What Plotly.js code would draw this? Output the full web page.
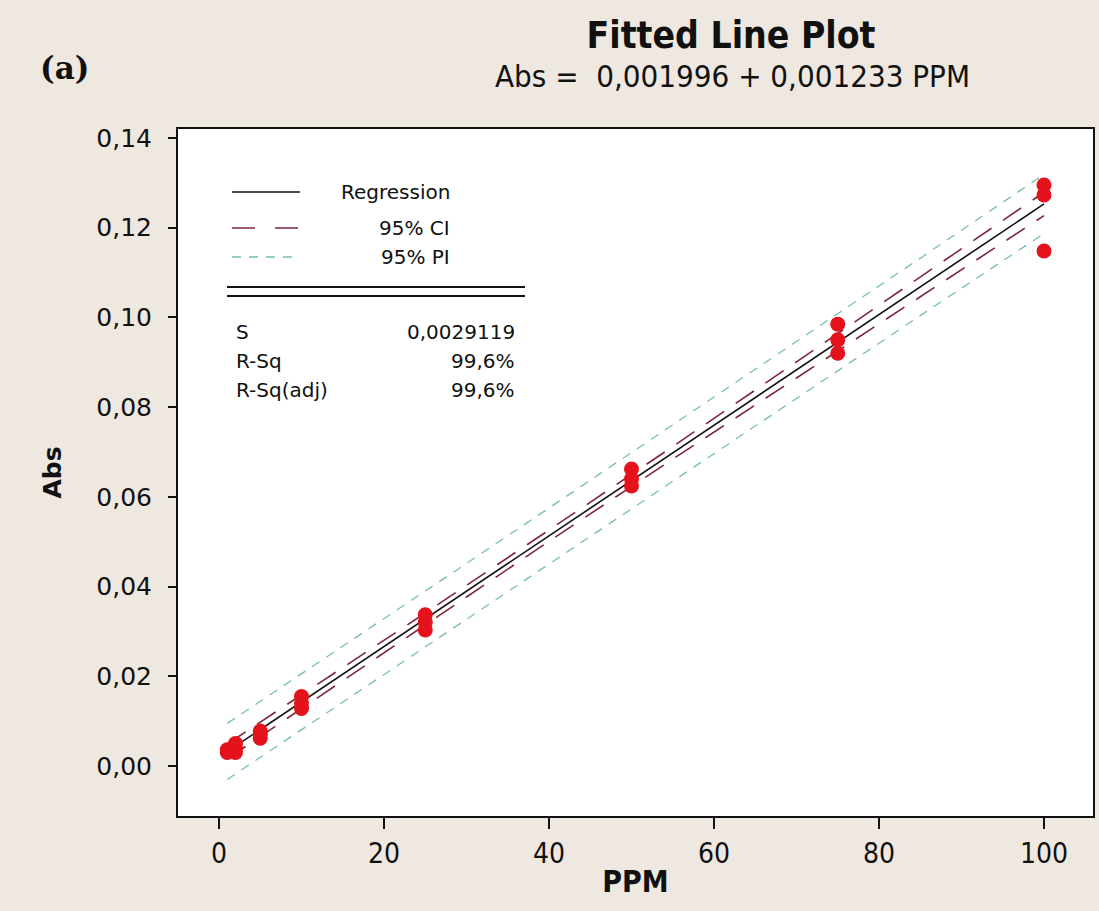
<!DOCTYPE html>
<html>
<head>
<meta charset="utf-8">
<script src="https://cdn.plot.ly/plotly-3.0.1.min.js"></script>
<style>html,body{margin:0;padding:0;background:#efe8e0;}</style>
</head>
<body>
<div id="chart" style="width:1099px;height:911px;"></div>
<script>
// ---- data ----
var ppm = [1, 1, 2, 2, 2, 5, 5, 5, 10, 10, 10, 25, 25, 25, 50, 50, 50, 75, 75, 75, 100, 100, 100];
var abs = [0.0030, 0.0036, 0.0030, 0.0040, 0.0050, 0.0062, 0.0070, 0.0078, 0.0128, 0.0140, 0.0155, 0.0303, 0.0320, 0.0337, 0.0624, 0.0640, 0.0662, 0.0920, 0.0950, 0.0985, 0.1148, 0.1273, 0.1295];

var lineX   = [1, 10, 25, 40, 55, 70, 85, 100];
var fitY    = [0.0032, 0.0143, 0.0328, 0.0513, 0.0698, 0.0883, 0.1068, 0.1253];
var ciUpper = [0.0049, 0.0158, 0.0341, 0.0526, 0.0712, 0.0901, 0.1090, 0.1279];
var ciLower = [0.0016, 0.0128, 0.0315, 0.0501, 0.0684, 0.0865, 0.1046, 0.1227];
var piUpper = [0.0095, 0.0205, 0.0390, 0.0575, 0.0760, 0.0946, 0.1132, 0.1319];
var piLower = [-0.0030, 0.0081, 0.0266, 0.0451, 0.0636, 0.0820, 0.1004, 0.1187];

var xTicks = [0, 20, 40, 60, 80, 100];
var xTickText = ['0', '20', '40', '60', '80', '100'];
var yTicks = [0, 0.02, 0.04, 0.06, 0.08, 0.10, 0.12, 0.14];
var yTickText = ['0,00', '0,02', '0,04', '0,06', '0,08', '0,10', '0,12', '0,14'];

var legendNames = ['Regression', '95% CI', '95% PI'];
var statNames = ['S', 'R-Sq', 'R-Sq(adj)'];
var statValues = ['0,0029119', '99,6%', '99,6%'];

var titleText = 'Fitted Line Plot';
var subtitleText = 'Abs =  0,001996 + 0,001233 PPM';
var panelLabel = '(a)';

// ---- styling ----
var CI_COLOR = '#7e2638';
var PI_COLOR = '#79bfa3';
var CI_DASH = '22px,14px';
var PI_DASH = '9px,8px';

var W = 1099, H = 911;
var L = 178, R = 1093, T = 129, B = 816;
function px(x) { return (x - L) / (R - L); }
function py(y) { return (B - y) / (B - T); }

var traces = [
  {x: lineX, y: piUpper, mode: 'lines', line: {color: PI_COLOR, width: 1.3, dash: PI_DASH}, showlegend: false, hoverinfo: 'skip'},
  {x: lineX, y: piLower, mode: 'lines', line: {color: PI_COLOR, width: 1.3, dash: PI_DASH}, showlegend: false, hoverinfo: 'skip'},
  {x: lineX, y: ciUpper, mode: 'lines', line: {color: CI_COLOR, width: 1.6, dash: CI_DASH}, showlegend: false, hoverinfo: 'skip'},
  {x: lineX, y: ciLower, mode: 'lines', line: {color: CI_COLOR, width: 1.6, dash: CI_DASH}, showlegend: false, hoverinfo: 'skip'},
  {x: lineX, y: fitY, mode: 'lines', line: {color: '#111111', width: 1.6}, showlegend: false, hoverinfo: 'skip'},
  {x: ppm, y: abs, mode: 'markers', marker: {color: '#e3121b', size: 15, line: {width: 0}}, showlegend: false}
];

var legFont = {family: 'DejaVu Sans', size: 20, color: '#111'};
var rowsY = [192, 228, 257];
var statY = [332, 361, 390];

var shapes = [
  {type: 'line', xref: 'paper', yref: 'paper', x0: px(232), x1: px(300), y0: py(rowsY[0]), y1: py(rowsY[0]), line: {color: '#111', width: 1.6}},
  {type: 'line', xref: 'paper', yref: 'paper', x0: px(232), x1: px(300), y0: py(rowsY[1]), y1: py(rowsY[1]), line: {color: CI_COLOR, width: 1.6, dash: '23px,20px'}},
  {type: 'line', xref: 'paper', yref: 'paper', x0: px(232), x1: px(300), y0: py(rowsY[2]), y1: py(rowsY[2]), line: {color: PI_COLOR, width: 1.4, dash: PI_DASH}},
  {type: 'line', xref: 'paper', yref: 'paper', x0: px(227), x1: px(525), y0: py(287), y1: py(287), line: {color: '#111', width: 2}},
  {type: 'line', xref: 'paper', yref: 'paper', x0: px(227), x1: px(525), y0: py(296), y1: py(296), line: {color: '#111', width: 2}}
];

var annotations = [];
for (var i = 0; i < legendNames.length; i++) {
  annotations.push({xref: 'paper', yref: 'paper', x: px(452), y: py(rowsY[i]), xanchor: 'right', yanchor: 'middle',
    text: legendNames[i], showarrow: false, font: legFont});
}
for (var j = 0; j < statNames.length; j++) {
  annotations.push({xref: 'paper', yref: 'paper', x: px(234), y: py(statY[j]), xanchor: 'left', yanchor: 'middle',
    text: statNames[j], showarrow: false, font: legFont});
  annotations.push({xref: 'paper', yref: 'paper', x: px(517), y: py(statY[j]), xanchor: 'right', yanchor: 'middle',
    text: statValues[j], showarrow: false, font: legFont});
}
annotations.push({xref: 'paper', yref: 'paper', x: (732 - L) / (R - L), y: py(76), xanchor: 'center', yanchor: 'middle',
  text: subtitleText, showarrow: false, font: {family: 'DejaVu Sans Condensed', size: 31, color: '#111'}});
annotations.push({xref: 'paper', yref: 'paper', x: px(38), y: py(68), xanchor: 'left', yanchor: 'middle',
  text: '<b>' + panelLabel + '</b>', showarrow: false, font: {family: 'DejaVu Serif', size: 31, color: '#111'}});

var layout = {
  width: W, height: H,
  paper_bgcolor: '#efe8e0',
  plot_bgcolor: '#ffffff',
  margin: {l: L, r: W - R, t: T, b: H - B, pad: 0},
  title: {text: '<b>' + titleText + '</b>', x: 731 / W, xanchor: 'center', xref: 'container',
    y: 1 - 35 / H, yanchor: 'middle', yref: 'container',
    font: {family: 'DejaVu Sans Condensed', size: 37, color: '#111'}},
  xaxis: {
    range: [-4.97, 105.94], tickvals: xTicks, ticktext: xTickText,
    ticks: 'outside', ticklen: 11, tickwidth: 2, tickcolor: '#111',
    showline: true, linecolor: '#111', linewidth: 2, mirror: true,
    showgrid: false, zeroline: false,
    tickfont: {family: 'DejaVu Sans Condensed', size: 28, color: '#111'},
    title: {text: '<b>PPM</b>', font: {family: 'DejaVu Sans Condensed', size: 30, color: '#111'}, standoff: 2}
  },
  yaxis: {
    range: [-0.01115, 0.1420], tickvals: yTicks, ticktext: yTickText,
    ticks: 'outside', ticklen: 8, tickwidth: 2, tickcolor: '#111',
    showline: true, linecolor: '#111', linewidth: 2, mirror: true,
    showgrid: false, zeroline: false,
    tickfont: {family: 'DejaVu Sans', size: 25, color: '#111'},
    ticklabelstandoff: 11,
    title: {text: '<b>Abs</b>', font: {family: 'DejaVu Sans', size: 25, color: '#111'}, standoff: 28}
  },
  shapes: shapes,
  annotations: annotations
};

Plotly.newPlot('chart', traces, layout, {displayModeBar: false, staticPlot: true});
</script>
</body>
</html>
